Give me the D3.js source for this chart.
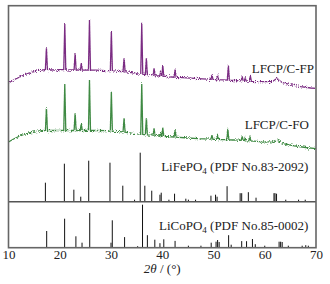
<!DOCTYPE html>
<html>
<head>
<meta charset="utf-8">
<script src="https://cdn.jsdelivr.net/npm/d3@7"></script>
<style>
  body { margin: 0; background: #fff; }
  svg { display: block; font-family: "Liberation Serif", "Times New Roman", serif; }
</style>
</head>
<body>
<div id="chart-container"></div>
<script>
// x axis ticks
const xTicks = [10, 20, 30, 40, 50, 60, 70];

// measured patterns, [2theta, intensity a.u.] (already stacked)
const fpTrace = [
  [10, 164.7], [11, 167.7], [12, 170.2], [13, 172.7], [14, 174.7], [15, 176], [16, 177.2], [17, 178],
  [17.2, 178.2], [17.4, 199.4], [17.6, 178.2], [18, 178], [19, 177.7], [20, 178],
  [20.78, 178], [20.98, 223.7], [21.18, 178], [22, 177.7],
  [22.8, 177.7], [23.0, 194.4], [23.2, 177.7], [24.0, 177.5], [24.2, 184.4], [24.4, 177.5],
  [25.6, 177.5], [25.8, 227.7], [26.0, 177.5], [27, 177.5], [29, 177],
  [29.87, 177], [30.07, 216.7], [30.27, 177], [31, 176.5],
  [32.35, 176], [32.55, 189.4], [32.75, 176], [33.5, 175.5], [35, 174],
  [35.8, 173.5], [36.0, 225], [36.2, 173.5], [36.7, 173.2], [36.9, 189.4], [37.1, 173],
  [38.2, 172.2], [38.4, 179.4], [38.6, 172], [39.5, 171.8], [39.7, 176], [39.85, 171.7],
  [39.95, 171.6], [40.1, 182.7], [40.3, 171.5], [41, 171],
  [42.3, 170.5], [42.5, 178.2], [42.7, 170.4], [44, 170], [47, 169],
  [49.5, 168.3], [49.7, 172.7], [49.9, 168.2], [50.6, 168], [50.8, 172.7], [51.0, 168],
  [52.7, 167.6], [52.9, 182.2], [53.1, 167.5], [54, 167.2],
  [55.4, 166.8], [55.6, 171.2], [55.8, 166.8], [56.0, 166.7], [56.2, 169.7], [56.4, 166.6],
  [57.0, 166.5], [57.2, 171.7], [57.4, 166.4], [59, 166], [61, 166], [61.6, 166.5],
  [62.0, 168], [62.4, 169.4], [62.8, 167.5], [63.3, 165.5], [64, 164.2], [65, 163],
  [67, 161], [69, 159.7], [70, 159.4]
];

const foTrace = [
  [10, 105.7], [11, 108.7], [12, 111.2], [13, 113.2], [14, 114.7], [15, 115.7], [16, 116.7], [17, 117.2],
  [17.2, 117.2], [17.4, 139.4], [17.6, 117.2], [18, 117.2], [19, 117.2], [20, 117.2],
  [20.78, 117.2], [20.98, 163.7], [21.18, 117.2], [22, 117.2],
  [22.8, 117.2], [23.0, 134.4], [23.2, 117.2], [24.0, 117.2], [24.2, 124.4], [24.4, 117.2],
  [25.6, 117.2], [25.8, 167.7], [26.0, 117.2], [27, 117.2], [29, 117],
  [29.87, 116.8], [30.07, 156], [30.27, 116.7], [31, 116.2],
  [32.35, 115.8], [32.55, 129.4], [32.75, 115.6], [33.5, 114.8], [35, 113.8],
  [35.8, 113.4], [36.0, 164.4], [36.2, 113.3], [36.7, 113], [36.9, 129.4], [37.1, 112.8],
  [38.2, 112.3], [38.4, 119.4], [38.6, 112.2], [39.5, 111.6], [39.7, 115], [39.85, 111.4],
  [39.95, 111.4], [40.1, 120], [40.3, 111.2], [41, 111],
  [42.3, 110.7], [42.5, 117.5], [42.7, 110.6], [45, 109.7], [47, 109],
  [49.5, 108.5], [49.7, 112.5], [49.9, 108.4], [50.6, 108.3], [50.8, 112.2], [51.0, 108.2],
  [52.6, 108], [52.8, 119], [53.0, 107.9], [54, 107.7],
  [55.4, 107.3], [55.6, 111.3], [55.8, 107.2], [56.0, 107.1], [56.2, 109.5], [56.4, 107],
  [56.9, 106.9], [57.1, 110.5], [57.3, 106.8], [59, 106], [61, 105.8], [61.6, 106],
  [62.0, 106.8], [62.4, 107.6], [62.8, 106.6], [63.3, 105], [64, 103.7], [66, 101.7],
  [68, 100.2], [70, 99]
];

// reference cards: positions and relative heights
const lfpPos = [17.2, 20.9, 22.75, 24.1, 25.65, 29.8, 32.3, 34.6, 35.7, 36.6, 37.95, 39.55, 39.8, 41.3,
  42.4, 44.6, 45.1, 46.5, 49.5, 50.4, 50.7, 52.65, 55.2, 55.5, 56.8, 58.3, 61.8, 62.0, 62.3, 64.1, 66.6, 67.9];
const lfpInt = [19, 38, 12, 5, 41, 39, 16, 2, 49, 16, 11, 7, 9, 2,
  8, 3, 2, 2, 6, 7, 5, 15.5, 8.5, 8.5, 9.5, 4, 8.5, 8.5, 8, 2, 2, 2];

const lcpPos = [17.45, 20.95, 23.15, 24.35, 25.85, 30.0, 30.25, 32.65, 35.2, 36.15, 37.1, 38.55, 39.55, 40.3,
  42.5, 45.1, 47.55, 49.55, 50.5, 50.8, 51.1, 52.95, 53.45, 55.5, 56.45, 57.6, 58.15, 60.0, 62.8, 63.1, 63.4,
  64.6, 67.3, 68.0, 68.5];
const lcpInt = [16.7, 29, 11.4, 5, 34.7, 5, 27.4, 10.6, 1.5, 43, 12.5, 8, 4.5, 8.4,
  6.8, 2, 2, 5, 6, 7.7, 5.7, 12.5, 3, 6.6, 6.5, 8.7, 3.5, 2, 6, 6, 5.7,
  2, 2, 2.5, 2];

// stacking offsets of the two stick panels
const lcpOffset = 0;
const lfpOffset = 46;

const W = 330, H = 284;
const margin = { top: 5.7, right: 14, bottom: 36.3, left: 8.5 };
const width = W - margin.left - margin.right;
const height = H - margin.top - margin.bottom;

const svg = d3.select("#chart-container")
  .append("svg")
  .attr("width", W)
  .attr("height", H);

// noisy look for the measured patterns
const defs = svg.append("defs");
const f = defs.append("filter")
  .attr("id", "noise")
  .attr("x", "-2%").attr("y", "-10%")
  .attr("width", "104%").attr("height", "120%")
  .attr("color-interpolation-filters", "sRGB");
f.append("feTurbulence")
  .attr("type", "fractalNoise")
  .attr("baseFrequency", "0.9")
  .attr("numOctaves", 1)
  .attr("seed", 4)
  .attr("result", "t");
f.append("feColorMatrix")
  .attr("in", "t")
  .attr("type", "matrix")
  .attr("values", "0 0 0 0 0.5  0 1 0 0 0  0 0 0 0 0  0 0 0 0 1")
  .attr("result", "m");
f.append("feDisplacementMap")
  .attr("in", "SourceGraphic")
  .attr("in2", "m")
  .attr("scale", 6)
  .attr("xChannelSelector", "R")
  .attr("yChannelSelector", "G");

const g = svg.append("g")
  .attr("transform", `translate(${margin.left},${margin.top})`);

const x = d3.scaleLinear().domain([10, 70]).range([0, width]);
const y = d3.scaleLinear().domain([0, height]).range([height, 0]);

const line = d3.line()
  .x(d => x(d[0]))
  .y(d => y(d[1]));

// patterns
g.append("path")
  .datum(fpTrace)
  .attr("fill", "none")
  .attr("stroke", "#7b2c83")
  .attr("stroke-width", 1.3)
  .attr("filter", "url(#noise)")
  .attr("d", line);

g.append("path")
  .datum(foTrace)
  .attr("fill", "none")
  .attr("stroke", "#3f8a43")
  .attr("stroke-width", 1.3)
  .attr("filter", "url(#noise)")
  .attr("d", line);

// stick patterns
function sticks(pos, ints, off) {
  g.append("g")
    .selectAll("line")
    .data(pos.map((p, i) => [p, ints[i]]))
    .enter()
    .append("line")
    .attr("x1", d => x(d[0]))
    .attr("x2", d => x(d[0]))
    .attr("y1", y(off))
    .attr("y2", d => y(off + d[1]))
    .attr("stroke", "#111")
    .attr("stroke-width", 1);
}
sticks(lfpPos, lfpInt, lfpOffset);
sticks(lcpPos, lcpInt, lcpOffset);

// divider between the two cards
g.append("line")
  .attr("x1", 0).attr("x2", width)
  .attr("y1", y(lfpOffset)).attr("y2", y(lfpOffset))
  .attr("stroke", "#555")
  .attr("stroke-width", 1.4);

// frame
g.append("rect")
  .attr("width", width)
  .attr("height", height)
  .attr("fill", "none")
  .attr("stroke", "#666")
  .attr("stroke-width", 1.6);

// x axis
const xAxis = g.append("g")
  .attr("transform", `translate(0,${height})`)
  .call(d3.axisBottom(x).tickValues(xTicks).tickSize(0).tickPadding(2));
xAxis.select(".domain").remove();
xAxis.selectAll("text")
  .style("font-family", "'Liberation Serif', serif")
  .style("font-size", "13px")
  .attr("fill", "#222");

const title = svg.append("text")
  .attr("x", margin.left + width / 2)
  .attr("y", 273)
  .attr("text-anchor", "middle")
  .style("font-size", "13px")
  .attr("fill", "#222");
title.append("tspan").style("font-style", "italic").text("2θ");
title.append("tspan").text(" / (°)");

// series labels
const labelStyle = t => t.attr("text-anchor", "end").style("font-size", "13px").attr("fill", "#222");

svg.append("text").attr("x", 314).attr("y", 72.7).call(labelStyle).text("LFCP/C-FP");
svg.append("text").attr("x", 309).attr("y", 129.3).call(labelStyle).text("LFCP/C-FO");

function cardLabel(name, card, yPos) {
  const t = svg.append("text").attr("x", 308.3).attr("y", yPos).call(labelStyle);
  t.append("tspan").text(name);
  t.append("tspan").attr("dy", 3).style("font-size", "9px").text("4");
  t.append("tspan").attr("dy", -3).text(" (PDF No." + card + ")");
}
cardLabel("LiFePO", "83-2092", 171.3);
cardLabel("LiCoPO", "85-0002", 229.7);
</script>
</body>
</html>
